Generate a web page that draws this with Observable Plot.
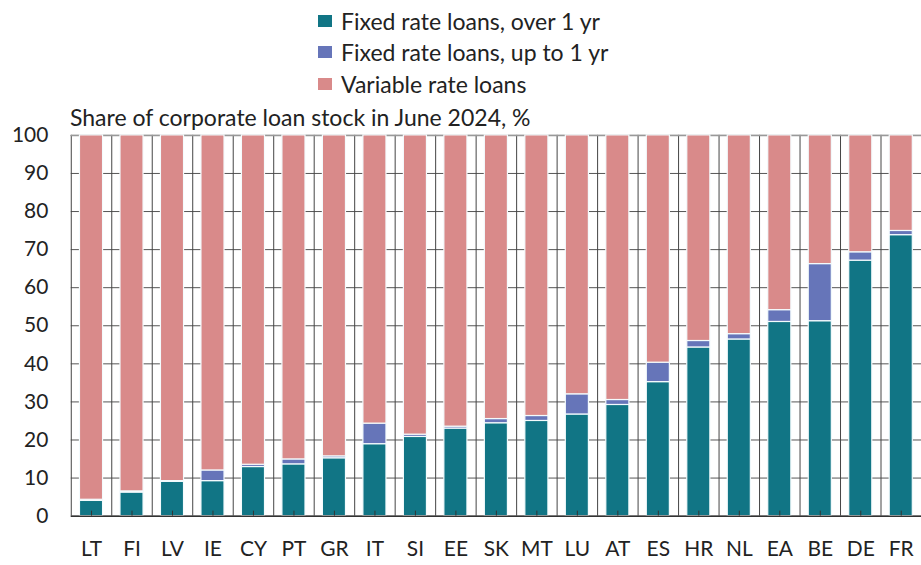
<!DOCTYPE html>
<html>
<head>
<meta charset="utf-8">
<script src="https://cdn.jsdelivr.net/npm/d3@7"></script>
<script src="https://cdn.jsdelivr.net/npm/@observablehq/plot@0.6"></script>
<style>
  html, body { margin: 0; padding: 0; background: #fff; }
  body { width: 921px; height: 565px; overflow: hidden; position: relative; font-family: Lato, "Open Sans", sans-serif; color: #222; }
  #legend { position: absolute; left: 318px; top: 5px; font-size: 23px; }
  .row { display: flex; align-items: center; height: 31.5px; }
  .sw { width: 14px; height: 12px; margin-right: 9px; }
  #title { position: absolute; left: 70px; top: 103px; font-size: 23px; white-space: nowrap; }
  #chart { position: absolute; left: 0; top: 100px; }
</style>
</head>
<body>
<div id="legend"></div>
<div id="title">Share of corporate loan stock in June 2024, %</div>
<div id="chart"></div>
<script>
const categories = ["LT","FI","LV","IE","CY","PT","GR","IT","SI","EE","SK","MT","LU","AT","ES","HR","NL","EA","BE","DE","FR"];
const seriesNames = ["Fixed rate loans, over 1 yr", "Fixed rate loans, up to 1 yr", "Variable rate loans"];
const seriesColors = ["#117585", "#6675b9", "#d98a8a"];
const fixedOver1 = [4.0, 6.2, 9.0, 9.2, 12.9, 13.6, 15.2, 18.9, 20.8, 23.0, 24.4, 25.0, 26.7, 29.2, 35.2, 44.3, 46.4, 51.0, 51.2, 67.1, 73.8];
const fixedUpTo1 = [0.3, 0.3, 0.2, 2.8, 0.6, 1.3, 0.5, 5.4, 0.6, 0.5, 1.1, 1.3, 5.3, 1.3, 5.1, 1.7, 1.4, 3.1, 15.0, 2.2, 1.1];
const variable   = [95.7, 93.5, 90.8, 88.0, 86.5, 85.1, 84.3, 75.7, 78.6, 76.5, 74.5, 73.7, 68.0, 69.5, 59.7, 54.0, 52.2, 45.9, 33.8, 30.7, 25.1];
const yTicks = [0, 10, 20, 30, 40, 50, 60, 70, 80, 90, 100];

const seriesValues = [fixedOver1, fixedUpTo1, variable];
const rows = [];
categories.forEach((c, i) => {
  seriesNames.forEach((s, k) => rows.push({country: c, series: s, value: seriesValues[k][i]}));
});

// legend
const legend = document.getElementById("legend");
seriesNames.forEach((s, k) => {
  const r = document.createElement("div");
  r.className = "row";
  r.innerHTML = `<span class="sw" style="background:${seriesColors[k]}"></span><span>${s}</span>`;
  legend.appendChild(r);
});

const W = 924, H = 465, mL = 71, mR = 0, mT = 35, mB = 48;
const half = (W - mL - mR) / categories.length / 2;

const chart = Plot.plot({
  width: W, height: H,
  marginLeft: mL, marginRight: mR, marginTop: mT, marginBottom: mB,
  style: { fontFamily: "Lato, 'Open Sans', sans-serif", fontSize: "21px", color: "#222", background: "transparent", overflow: "visible" },
  x: { domain: categories, paddingInner: 0.43, paddingOuter: 0.215, round: false, label: null },
  y: { domain: [0, 100], label: null },
  color: { domain: seriesNames, range: seriesColors },
  marks: [
    Plot.ruleY(yTicks, { stroke: "#555", strokeWidth: 1 }),
    Plot.ruleX(categories, { dx: -half, stroke: "#444", strokeWidth: 1 }),
    Plot.ruleY([100], { stroke: "#999", strokeWidth: 1.5 }),
    Plot.barY(rows, { x: "country", y: "value", fill: "series", stroke: "#f4fbfd", strokeWidth: 1.2 }),
    Plot.ruleY([0], { stroke: "#333", strokeWidth: 1.5 }),
    Plot.axisX({ tickSize: -5, stroke: "#333", text: null }),
    Plot.axisX({ tickSize: 0, tickPadding: 25, fontSize: 21 }),
    Plot.axisY(yTicks, { tickSize: 0, tickPadding: 23, fontSize: 21 })
  ]
});
document.getElementById("chart").appendChild(chart);
</script>
</body>
</html>
